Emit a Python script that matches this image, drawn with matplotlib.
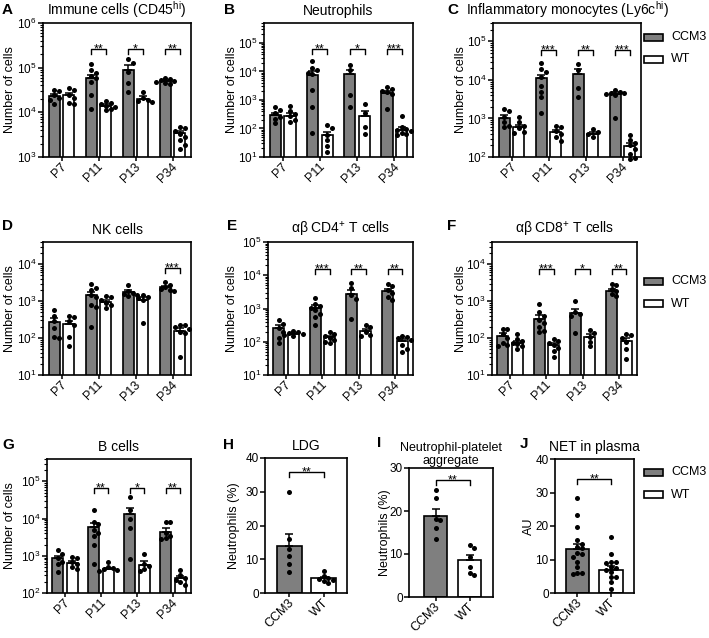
import matplotlib
matplotlib.use("Agg")
import matplotlib.pyplot as plt
from matplotlib.patches import Rectangle
import numpy as np

plt.rcParams['font.family'] = ['Liberation Sans', 'DejaVu Sans']
plt.rcParams['mathtext.default'] = 'regular'

# ******************************************************************************
# Data (means, SEM and single animals)
ages = ['P7', 'P11', 'P13', 'P34']
groups = ['CCM3', 'WT']

# A - Immune cells (CD45hi)
a_ccm3_mean = [2.3e4, 5.8e4, 9.0e4, 5.0e4]
a_ccm3_sem = [3e3, 1.2e4, 2.2e4, 3e3]
a_wt_mean = [2.4e4, 1.4e4, 2.0e4, 3.4e3]
a_wt_sem = [3.5e3, 1e3, 3e3, 4e2]
a_ccm3_pts = [[3.2e4, 3.0e4, 2.4e4, 2.1e4, 1.9e4, 1.5e4],
              [1.2e5, 9e4, 7.5e4, 6.5e4, 5.8e4, 4.8e4, 2.4e4, 1.2e4],
              [1.6e5, 1.3e5, 8e4, 4.5e4, 2.9e4],
              [6e4, 5.6e4, 5.2e4, 5e4, 4.8e4, 4.6e4, 4.4e4]]
a_wt_pts = [[3.5e4, 3.1e4, 2.4e4, 2.1e4, 1.6e4, 1.5e4],
            [1.8e4, 1.6e4, 1.5e4, 1.4e4, 1.3e4, 1.2e4, 1.1e4],
            [2.9e4, 2.1e4, 1.9e4, 1.8e4, 1.7e4],
            [4.8e3, 4.4e3, 3.8e3, 3.3e3, 2.8e3, 2.4e3, 1.9e3, 1.5e3]]
a_sig = [None, '**', '*', '**']

# B - Neutrophils
b_ccm3_mean = [300, 7.8e3, 8e3, 1.7e3]
b_ccm3_sem = [60, 2.5e3, 3.5e3, 4e2]
b_wt_mean = [280, 60, 280, 90]
b_wt_sem = [60, 15, 130, 25]
b_ccm3_pts = [[550, 450, 340, 260, 220, 150],
              [2.4e4, 1.3e4, 1.1e4, 9e3, 8e3, 2.3e3, 580, 70],
              [1.7e4, 1.1e4, 1.5e3, 550],
              [2.8e3, 2.5e3, 2.1e3, 1.9e3, 1.6e3, 500]]
b_wt_pts = [[620, 420, 320, 270, 200, 170],
            [130, 100, 60, 40, 25, 15],
            [750, 340, 110, 66],
            [270, 110, 95, 90, 80, 70, 65, 60]]
b_sig = [None, '**', '*', '***']

# C - Inflammatory monocytes (Ly6chi)
c_ccm3_mean = [1000, 1.1e4, 1.4e4, 4.2e3]
c_ccm3_sem = [200, 2.5e3, 5e3, 6e2]
c_wt_mean = [600, 450, 400, 190]
c_wt_sem = [90, 60, 40, 40]
c_ccm3_pts = [[1.8e3, 1.6e3, 1.1e3, 800, 650, 600],
              [2.8e4, 1.9e4, 1.6e4, 1.2e4, 6.8e3, 5e3, 3.5e3, 1.4e3],
              [2.6e4, 1.8e4, 6e3, 3.5e3],
              [5.5e3, 5e3, 4.7e3, 4.5e3, 4.2e3, 4e3, 1e3]]
c_wt_pts = [[1.1e3, 800, 650, 550, 450, 420],
            [650, 600, 480, 400, 330, 260],
            [520, 450, 400, 330],
            [380, 280, 230, 200, 160, 120, 95, 90]]
c_sig = [None, '***', '**', '***']

# D - NK cells
d_ccm3_mean = [280, 1.45e3, 1.75e3, 2.4e3]
d_ccm3_sem = [70, 300, 200, 250]
d_wt_mean = [240, 950, 1.1e3, 160]
d_wt_sem = [50, 100, 200, 25]
d_ccm3_pts = [[560, 390, 290, 190, 110, 100],
              [2.9e3, 2.3e3, 2e3, 1.5e3, 1.3e3, 800, 700, 200],
              [2.8e3, 1.9e3, 1.7e3, 1.6e3, 1.5e3, 1.4e3],
              [3.4e3, 2.7e3, 2.4e3, 2.2e3, 2e3, 1.9e3]]
d_wt_pts = [[390, 380, 290, 220, 110, 60],
            [1.4e3, 1.3e3, 1.1e3, 900, 800, 650],
            [1.5e3, 1.3e3, 1.2e3, 1.1e3, 250],
            [230, 220, 200, 180, 150, 140, 30]]
d_sig = [None, None, None, '***']

# E - ab CD4+ T cells
e_ccm3_mean = [260, 1.05e3, 2.8e3, 3.3e3]
e_ccm3_sem = [50, 200, 900, 500]
e_wt_mean = [170, 135, 210, 105]
e_wt_sem = [10, 15, 40, 15]
e_ccm3_pts = [[440, 350, 260, 200, 130, 90],
              [2e3, 1.4e3, 1.2e3, 1.05e3, 900, 700, 550, 320],
              [6e3, 4e3, 2.5e3, 1.9e3, 500],
              [5.6e3, 4.8e3, 3.6e3, 3e3, 2.2e3, 1.8e3]]
e_wt_pts = [[210, 190, 180, 170, 160, 150],
            [190, 170, 150, 130, 110, 100, 90],
            [330, 270, 200, 160, 150],
            [150, 140, 130, 110, 80, 60, 50]]
e_sig = [None, '***', '**', '**']

# F - ab CD8+ T cells
f_ccm3_mean = [115, 330, 480, 1.9e3]
f_ccm3_sem = [25, 90, 150, 300]
f_wt_mean = [75, 65, 105, 85]
f_wt_sem = [8, 8, 20, 15]
f_ccm3_pts = [[180, 175, 125, 100, 75, 65, 60],
              [850, 500, 400, 300, 250, 200, 160, 150],
              [1e3, 500, 450, 400, 140],
              [3e3, 2.8e3, 2.2e3, 1.9e3, 1.6e3, 1.4e3]]
f_wt_pts = [[130, 95, 85, 75, 70, 60, 50],
            [95, 85, 75, 65, 55, 45, 30],
            [170, 140, 110, 80, 60],
            [130, 120, 100, 80, 50, 27]]
f_sig = [None, '***', '*', '**']

# G - B cells
g_ccm3_mean = [850, 5.8e3, 1.35e4, 4.4e3]
g_ccm3_sem = [150, 1.8e3, 6e3, 1.2e3]
g_wt_mean = [650, 440, 580, 250]
g_wt_sem = [80, 40, 150, 30]
g_ccm3_pts = [[1.4e3, 1.1e3, 900, 700, 600, 370],
              [1.7e4, 8e3, 7e3, 5e3, 4e3, 3.5e3, 2e3, 620],
              [3.7e4, 1.7e4, 1e4, 5.5e3, 800],
              [8.3e3, 8.3e3, 4e3, 3.5e3, 3e3, 2.8e3]]
g_wt_pts = [[950, 850, 700, 600, 500, 450],
            [700, 500, 460, 440, 420, 400],
            [1.1e3, 600, 520, 450, 400],
            [420, 300, 260, 230, 200, 160]]
g_sig = [None, '**', '*', '**']

# H - LDG, I - neutrophil-platelet aggregate, J - NET in plasma
h_mean = [14.0, 4.3]
h_sem = [3.4, 0.4]
h_pts = [[30, 16, 13, 11, 8.5, 6.3], [6.6, 5, 4.5, 4.2, 3.8, 3.6, 3.0]]
i_mean = [18.8, 8.6]
i_sem = [1.7, 1.2]
i_pts = [[24.9, 23.0, 18.1, 17.8, 16.1, 13.6], [12.2, 11.3, 9.4, 7.0, 5.6, 5.1]]
j_mean = [13.0, 7.0]
j_sem = [1.7, 1.1]
j_pts = [[28.4, 23.2, 19.7, 15.7, 14.7, 13.8, 13.3, 11.8, 11.6, 10.8, 9.3, 7.8, 6.0, 6.0, 5.8],
         [16.7, 11.5, 9.3, 9.2, 9.0, 7.8, 7.6, 7.0, 6.3, 4.8, 4.8, 3.3, 1.3]]
# ******************************************************************************

W, H = 709, 638
GRAY = '#7f7f7f'
fig = plt.figure(figsize=(W / 100, H / 100), dpi=100)


def px_axes(l, t, r, b):
    return fig.add_axes([l / W, 1 - b / H, (r - l) / W, (b - t) / H])


def style(ax):
    for s in ax.spines.values():
        s.set_linewidth(1.2)
    ax.tick_params(which='major', direction='out', length=3.5, width=1.1, labelsize=8.5, pad=1)
    ax.tick_params(which='minor', direction='out', length=2, width=0.8)
    ax.tick_params(axis='x', which='minor', bottom=False)
    ax.tick_params(axis='x', length=3, labelbottom=False)


def xlabels(ax, names):
    # slanted category names under each tick
    ax.set_xticks(range(len(names)))
    for i, name in enumerate(names):
        ax.annotate(name, xy=(i, 0), xycoords=('data', 'axes fraction'), xytext=(-1, -2.5),
                    textcoords='offset points', rotation=45, rotation_mode='anchor',
                    ha='right', va='top', fontsize=9)


def swarm(ax, x, vals, dot=4.6):
    # place dots side by side when they overlap (prism style)
    ppu = ax.transData.transform((x + 1, 1))[0] - ax.transData.transform((x, 1))[0]
    placed = []
    xs = []
    for v in vals:
        yd = ax.transData.transform((x, v))[1]
        k = 0
        while True:
            off = ((k + 1) // 2) * dot * (1 if k % 2 else -1) if k else 0.0
            if all((off - po) ** 2 + (yd - py) ** 2 >= dot ** 2 for po, py in placed):
                break
            k += 1
        placed.append((off, yd))
        xs.append(x + off / ppu)
    ax.scatter(xs, vals, s=13, c='k', lw=0, zorder=4, clip_on=False)


def bars(ax, xs, means, sems, pts, color, width):
    ax.bar(xs, means, width, color=color, edgecolor='k', linewidth=1.2, zorder=2)
    ax.errorbar(xs, means, yerr=[np.zeros(len(means)), sems], fmt='none', ecolor='k',
                elinewidth=1.1, capsize=3, capthick=1.1, zorder=3)
    for x, p in zip(xs, pts):
        swarm(ax, x, p)


def bracket(ax, x0, x1, y, label, tip=5):
    d = ax.transData.transform((x0, y))
    ytip = ax.transData.inverted().transform((d[0], d[1] - tip))[1]
    ax.plot([x0, x0, x1, x1], [ytip, y, y, ytip], color='k', lw=1, clip_on=False, zorder=5)
    ax.annotate(label, xy=((x0 + x1) / 2, y), xytext=(0, -2.5), textcoords='offset points',
                ha='center', va='baseline', fontsize=9)


def side_text(ax, box, ylabel, ylab_right, letter, letter_px):
    ax.set_ylabel(ylabel, fontsize=9)
    # ylabel anchor is the right edge of the rotated text
    ax.yaxis.set_label_coords((ylab_right - box[0]) / (box[2] - box[0]), 0.5)
    fig.text(letter_px[0] / W, 1 - letter_px[1] / H, letter, fontsize=11, fontweight='bold', va='center')


def log_panel(box, title, ylim, ccm3_mean, ccm3_sem, wt_mean, wt_sem, ccm3_pts, wt_pts, sig, sig_y,
              ylab_right, letter, letter_px):
    ax = px_axes(*box)
    ax.set_yscale('log')
    ax.set_ylim(*ylim)
    ax.set_xlim(-0.5, 3.5)
    style(ax)
    x = np.arange(len(ages))
    bars(ax, x - 0.2, ccm3_mean, ccm3_sem, ccm3_pts, GRAY, 0.3)
    bars(ax, x + 0.2, wt_mean, wt_sem, wt_pts, 'white', 0.3)
    for i, s in enumerate(sig):
        if s:
            bracket(ax, i - 0.2, i + 0.2, sig_y, s)
    ax.set_title(title, fontsize=10, pad=6)
    side_text(ax, box, 'Number of cells', ylab_right, letter, letter_px)
    xlabels(ax, ages)
    return ax


def pct_panel(box, ylim, yticks, xlim, width, mean, sem, pts, sig_y, ylabel, ylab_right, letter, letter_px):
    ax = px_axes(*box)
    ax.set_ylim(*ylim)
    ax.set_xlim(*xlim)
    ax.set_yticks(yticks)
    style(ax)
    bars(ax, [0], mean[:1], sem[:1], pts[:1], GRAY, width)
    bars(ax, [1], mean[1:], sem[1:], pts[1:], 'white', width)
    bracket(ax, 0, 1, sig_y, '**')
    side_text(ax, box, ylabel, ylab_right, letter, letter_px)
    xlabels(ax, groups)
    return ax


def legend(y_px):
    # two boxes + names, to the right of the last panel of each row
    for k, (name, col) in enumerate(zip(groups, [GRAY, 'white'])):
        yc = y_px + k * 22.5
        fig.patches.append(Rectangle((644 / W, 1 - (yc + 3.5) / H), 19 / W, 7 / H, facecolor=col,
                                     edgecolor='k', linewidth=1.2, transform=fig.transFigure))
        fig.text(671 / W, 1 - yc / H, name, fontsize=9, va='center', ha='left')


# ******************************************************************************
# Row 1
log_panel((43, 23, 191, 157), 'Immune cells (CD45$^{hi}$)', (1e3, 1e6), a_ccm3_mean, a_ccm3_sem,
          a_wt_mean, a_wt_sem, a_ccm3_pts, a_wt_pts, a_sig, 2.6e5, 16, 'A', (2, 10))
log_panel((264, 23, 413, 157), 'Neutrophils', (10, 5e5), b_ccm3_mean, b_ccm3_sem,
          b_wt_mean, b_wt_sem, b_ccm3_pts, b_wt_pts, b_sig, 6.2e4, 238, 'B', (224, 10))
log_panel((493, 23, 641, 157), 'Inflammatory monocytes (Ly6c$^{hi}$)', (100, 3e5), c_ccm3_mean,
          c_ccm3_sem, c_wt_mean, c_wt_sem, c_ccm3_pts, c_wt_pts, c_sig, 6e4, 467, 'C', (447, 10))
legend(37)

# Row 2
log_panel((43, 242, 191, 375), 'NK cells', (10, 4e4), d_ccm3_mean, d_ccm3_sem,
          d_wt_mean, d_wt_sem, d_ccm3_pts, d_wt_pts, d_sig, 8e3, 16, 'D', (2, 226))
log_panel((268, 242, 413, 375), r'αβ CD4$^{+}$ T cells', (10, 1e5), e_ccm3_mean, e_ccm3_sem,
          e_wt_mean, e_wt_sem, e_ccm3_pts, e_wt_pts, e_sig, 1.5e4, 238, 'E', (227, 226))
log_panel((492, 242, 637, 375), r'αβ CD8$^{+}$ T cells', (10, 4e4), f_ccm3_mean, f_ccm3_sem,
          f_wt_mean, f_wt_sem, f_ccm3_pts, f_wt_pts, f_sig, 7.4e3, 467, 'F', (447, 226))
legend(281)

# Row 3
log_panel((47, 459, 191, 593), 'B cells', (100, 4e5), g_ccm3_mean, g_ccm3_sem,
          g_wt_mean, g_wt_sem, g_ccm3_pts, g_wt_pts, g_sig, 6.6e4, 16, 'G', (2, 445))
ax_h = pct_panel((265, 458, 347, 593), (0, 40), [0, 10, 20, 30, 40], (-0.72, 1.69), 0.72,
                 h_mean, h_sem, h_pts, 36, 'Neutrophils (%)', 240, 'H', (223, 445))
ax_h.set_title('LDG', fontsize=10, pad=6)
ax_i = pct_panel((409, 468, 493, 597), (0, 30), [0, 10, 20, 30], (-0.78, 1.69), 0.68,
                 i_mean, i_sem, i_pts, 27.3, 'Neutrophils (%)', 391, 'I', (377, 443))
ax_i.set_title('Neutrophil-platelet\naggregate', fontsize=9, pad=3, linespacing=1.05)
ax_j = pct_panel((555, 459, 634, 593), (0, 40), [0, 10, 20, 30, 40], (-0.67, 1.69), 0.7,
                 j_mean, j_sem, j_pts, 34, 'AU', 535, 'J', (520, 444))
ax_j.set_title('NET in plasma', fontsize=10, pad=6)
legend(472)

plt.savefig('out.png', dpi=100)
